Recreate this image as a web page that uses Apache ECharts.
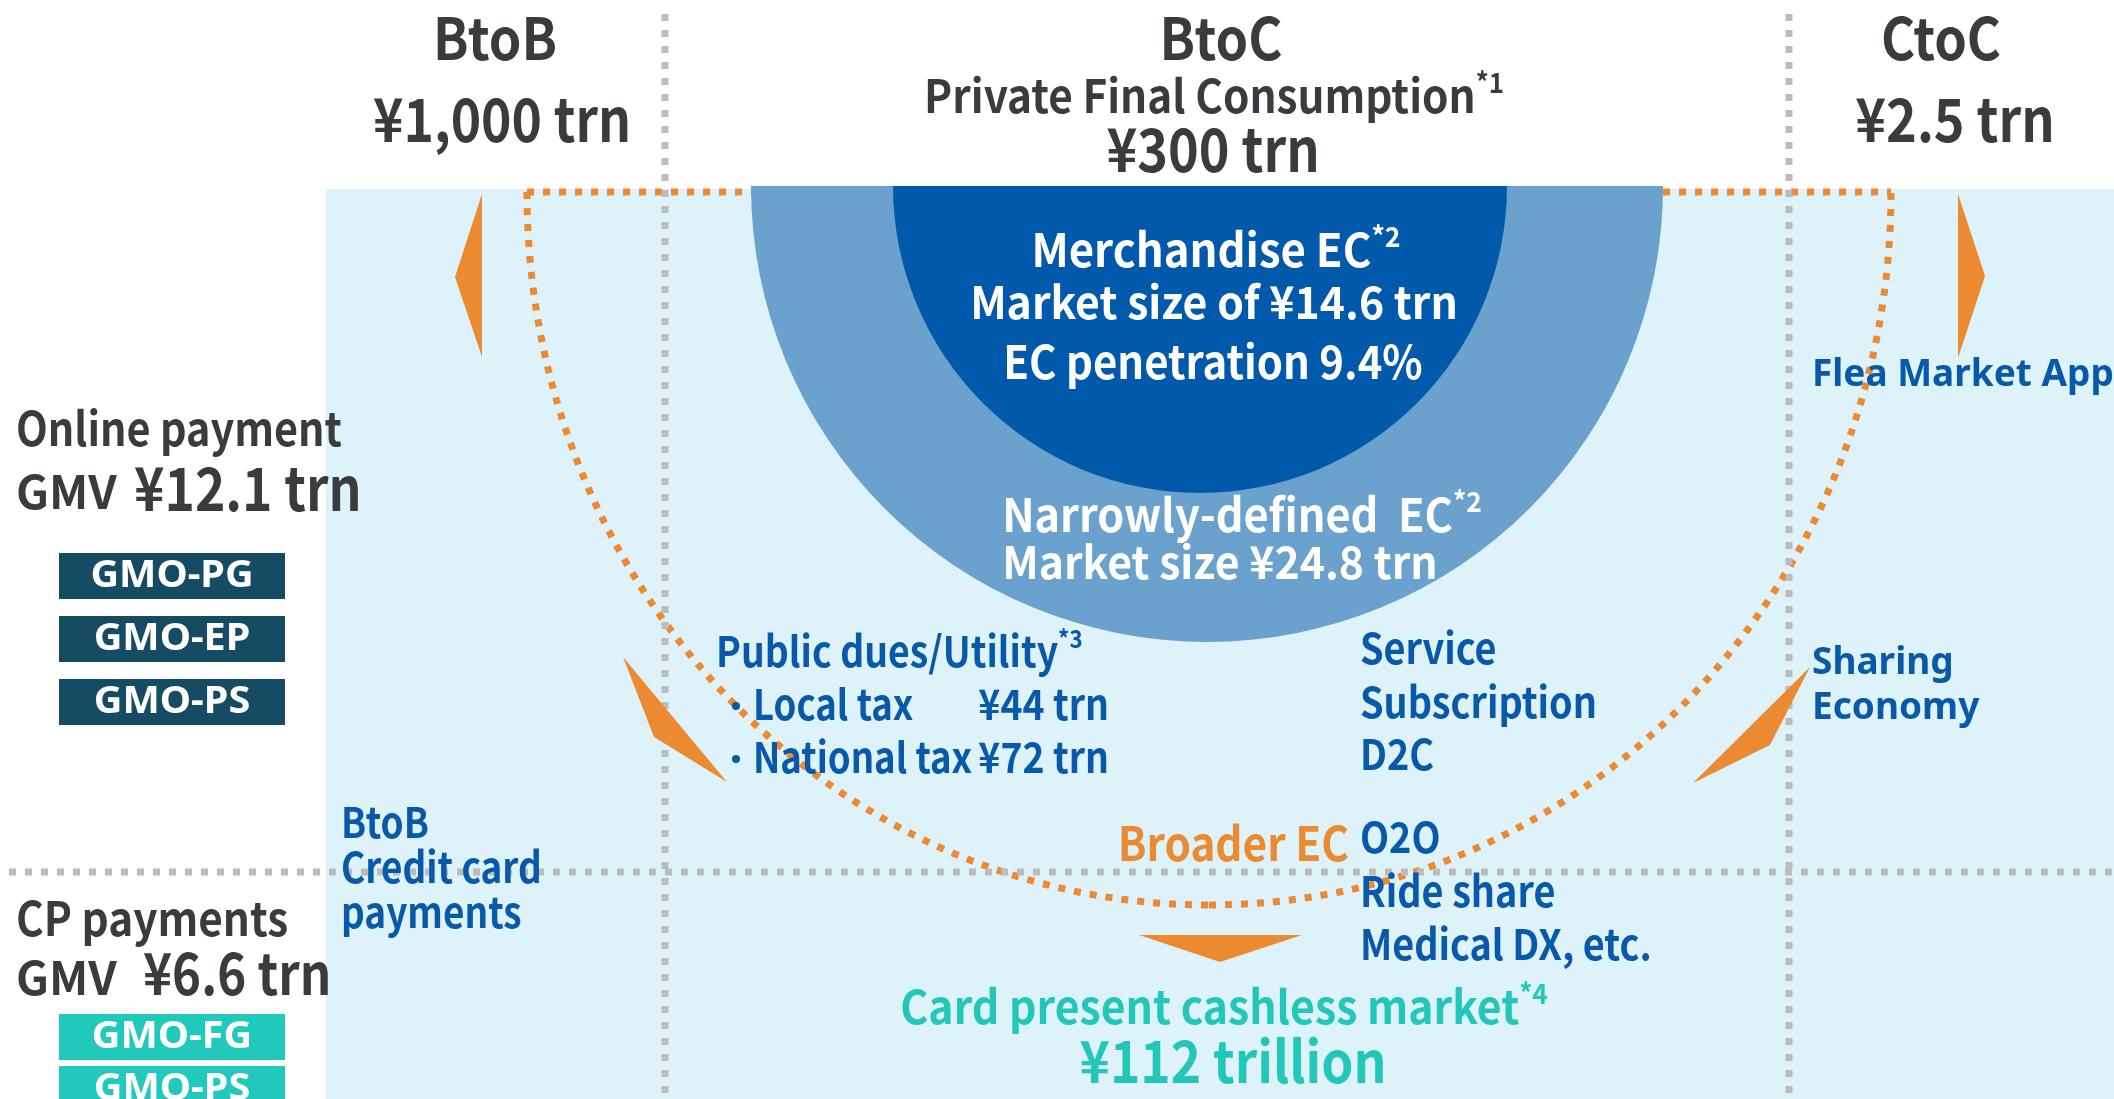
<!DOCTYPE html>
<html>
<head>
<meta charset="utf-8">
<title>EC market map</title>
<script src="https://cdn.jsdelivr.net/npm/echarts@6/dist/echarts.min.js"></script>
<style>
html, body { margin: 0; padding: 0; background: #fff; }
#main { width: 2114px; height: 1099px; }
</style>
</head>
<body>
<div id="main"></div>
<script>
// segment headers
var segNames = ['BtoB', 'BtoC', 'CtoC'];
var segSizes = ['¥1,000 trn', '¥300 trn', '¥2.5 trn'];
var btocSub = 'Private Final Consumption';
// payment GMV (left column)
var payNames = ['Online payment', 'CP payments'];
var payGmv = ['¥12.1 trn', '¥6.6 trn'];
var onlineCos = ['GMO-PG', 'GMO-EP', 'GMO-PS'];
var cpCos = ['GMO-FG', 'GMO-PS'];
// EC market, trn yen  [narrowly-defined, merchandise]
var ecNames = ['Narrowly-defined  EC', 'Merchandise EC'];
var ecSizes = [24.8, 14.6];
var ecPenetration = 9.4;
// public dues
var taxNames = ['Local tax', 'National tax'];
var taxSizes = [44, 72];
var serviceItems = ['Service', 'Subscription', 'D2C', 'O2O', 'Ride share', 'Medical DX, etc.'];
var ctocItems = ['Flea Market App', 'Sharing', 'Economy'];
var btobItems = ['BtoB', 'Credit card', 'payments'];
var cashless = 112;

var F = '"Noto Sans CJK JP", "Noto Sans", sans-serif';
var F2 = '"Noto Sans", "Open Sans", sans-serif';
var DARK = '#393c3f', BLUE = '#0859a9', TEAL = '#22c7b9', ORANGE = '#eb8a30', GRAY = '#bcbcbc';

// sx squeezes the text horizontally (the original font is narrower)
function txt(s, x, y, size, fill, align, sx, family, rich) {
  return {
    type: 'text', x: x, y: y, z: 20, silent: true, scaleX: sx || 1,
    style: {
      text: s, fontSize: size, fontFamily: family || F, fontWeight: 'bold', fill: fill,
      align: align || 'left', textAlign: align || 'left',
      verticalAlign: 'middle', textVerticalAlign: 'middle', rich: rich
    }
  };
}
// text with a small superscript note mark
function supText(main, sup, x, y, size, fill, align, sx) {
  return txt('{m|' + main + '}{s|' + sup + '}', x, y, size, fill, align, sx, F, {
    m: { fontSize: size, fontFamily: F, fontWeight: 'bold', fill: fill, lineHeight: Math.round(size * 1.2) },
    s: { fontSize: Math.round(size * 0.6), fontFamily: F, fontWeight: 'bold', fill: fill,
         lineHeight: Math.round(size * 0.62), verticalAlign: 'top' }
  });
}

var els = [];
// light blue area
els.push({ type: 'rect', z: 0, silent: true, shape: { x: 326, y: 189, width: 1788, height: 910 }, style: { fill: '#def2f9' } });

// broader EC dotted outline
var od = { stroke: ORANGE, lineWidth: 7, lineDash: [7, 9], fill: 'none' };
els.push({ type: 'line', z: 1, silent: true, shape: { x1: 527, y1: 192, x2: 1891, y2: 192 }, style: od });
els.push({ type: 'bezierCurve', z: 1, silent: true, shape: { x1: 527, y1: 192, cpx1: 527, cpy1: 586, cpx2: 832, cpy2: 905, x2: 1209, y2: 905 }, style: od });
els.push({ type: 'bezierCurve', z: 1, silent: true, shape: { x1: 1209, y1: 905, cpx1: 1586, cpy1: 905, cpx2: 1891, cpy2: 586, x2: 1891, y2: 192 }, style: od });

// grey dotted dividers
var gd = { stroke: GRAY, lineWidth: 7, lineDash: [7, 9] };
els.push({ type: 'line', z: 1, silent: true, shape: { x1: 665, y1: 14, x2: 665, y2: 1099 }, style: gd });
els.push({ type: 'line', z: 1, silent: true, shape: { x1: 1789, y1: 14, x2: 1789, y2: 1099 }, style: gd });
els.push({ type: 'line', z: 1, silent: true, shape: { x1: 9, y1: 872, x2: 2114, y2: 872 }, style: gd });

// orange arrows
var arrows = [
  [[482, 194], [455, 277], [482, 357]],
  [[1958, 194], [1985, 276], [1958, 358]],
  [[623, 657], [727, 782], [654, 737]],
  [[1810, 667], [1693, 783], [1770, 745]],
  [[1139, 935], [1302, 935], [1220, 962]]
];
arrows.forEach(function (p) {
  els.push({ type: 'polygon', z: 5, silent: true, shape: { points: p }, style: { fill: ORANGE } });
});

// headers
els.push(txt(segNames[0], 495, 38, 58, DARK, 'center', 0.9));
els.push(txt(segSizes[0], 502, 119, 60, DARK, 'center', 0.86));
els.push(txt(segNames[1], 1221, 38, 58, DARK, 'center', 0.9));
els.push(supText(btocSub, '*1', 1214, 96, 46, DARK, 'center', 0.92));
els.push(txt(segSizes[1], 1213, 149, 60, DARK, 'center', 0.87));
els.push(txt(segNames[2], 1941, 38, 58, DARK, 'center', 0.9));
els.push(txt(segSizes[2], 1955, 119, 60, DARK, 'center', 0.87));

// left column
els.push(txt(payNames[0], 16, 428, 47, DARK, 'left', 0.88));
els.push(txt('GMV', 16, 492, 46, DARK));
els.push(txt(payGmv[0], 134, 488, 60, DARK, 'left', 0.86));
onlineCos.forEach(function (c, i) {
  var y = 553 + i * 63;
  els.push({ type: 'rect', z: 5, silent: true, shape: { x: 59, y: y, width: 226, height: 46 }, style: { fill: '#154b63' } });
  els.push(txt(c, 172, y + 23, 37, '#fff', 'center', 1.07, F2));
});
els.push(txt(payNames[1], 16, 918, 47, DARK, 'left', 0.9));
els.push(txt('GMV', 16, 978, 46, DARK));
els.push(txt(payGmv[1], 143, 973, 58, DARK, 'left', 0.85));
cpCos.forEach(function (c, i) {
  var y = 1014 + i * 52;
  els.push({ type: 'rect', z: 5, silent: true, shape: { x: 59, y: y, width: 226, height: 46 }, style: { fill: '#20c9bb' } });
  els.push(txt(c, 172, y + 23, 37, '#fff', 'center', 1.07, F2));
});
btobItems.forEach(function (s, i) {
  els.push(txt(s, 341, 822 + i * 45, 42, BLUE, 'left', 0.88));
});

// inside the half discs
els.push(supText(ecNames[1], '*2', 1216, 250, 46, '#fff', 'center', 0.95));
els.push(txt('Market size of ¥' + ecSizes[1] + ' trn', 1214, 302, 45, '#fff', 'center', 0.95));
els.push(txt('EC penetration ' + ecPenetration + '%', 1213, 362, 46, '#fff', 'center', 0.91));
els.push(supText(ecNames[0], '*2', 1242, 515, 46, '#fff', 'center', 0.94));
els.push(txt('Market size ¥' + ecSizes[0] + ' trn', 1220, 562, 45, '#fff', 'center', 0.95));

// public dues
els.push(supText('Public dues/Utility', '*3', 716, 651, 42, BLUE, 'left', 0.89));
taxNames.forEach(function (s, i) {
  var y = 704 + i * 53;
  els.push({ type: 'circle', z: 20, silent: true, shape: { cx: 736, cy: y + 2, r: 4 }, style: { fill: BLUE } });
  els.push(txt(s, 753, y, 42, BLUE, 'left', 0.87));
  els.push(txt('¥' + taxSizes[i] + ' trn', 1109, y, 42, BLUE, 'right', 0.89));
});

// services
var svcY = [648, 702, 754, 837, 891, 944];
serviceItems.forEach(function (s, i) {
  els.push(txt(s, 1360, svcY[i], 42, BLUE, 'left', 0.9));
});
els.push(txt('Broader EC', 1349, 843, 47, ORANGE, 'right', 0.9));

// CtoC
els.push(txt(ctocItems[0], 1812, 375, 37, BLUE, 'left', 1, F2));
els.push(txt(ctocItems[1], 1812, 663, 37, BLUE, 'left', 1, F2));
els.push(txt(ctocItems[2], 1812, 708, 37, BLUE, 'left', 1, F2));

// card present market
els.push(supText('Card present cashless market', '*4', 1224, 1007, 46, TEAL, 'center', 0.93));
els.push(txt('¥' + cashless + ' trillion', 1233, 1061, 58, TEAL, 'center', 0.89));

function halfDisc(center, r, value, color, z) {
  return {
    type: 'pie', silent: true, z: z, center: center, radius: [0, r],
    startAngle: 0, clockwise: true,
    label: { show: false }, labelLine: { show: false },
    emphasis: { disabled: true },
    itemStyle: { borderWidth: 0 },
    data: [
      { value: value, itemStyle: { color: color } },
      { value: value, itemStyle: { color: 'rgba(0,0,0,0)' } }
    ]
  };
}

var myChart = echarts.init(document.getElementById('main'));
var option = {
  animation: false,
  backgroundColor: '#fff',
  graphic: { elements: els },
  series: [
    halfDisc([1207, 186], 456, ecSizes[0], '#6aa1cd', 2),
    halfDisc([1200, 186], 307, ecSizes[1], '#0059aa', 3)
  ]
};
myChart.setOption(option);
</script>
</body>
</html>
